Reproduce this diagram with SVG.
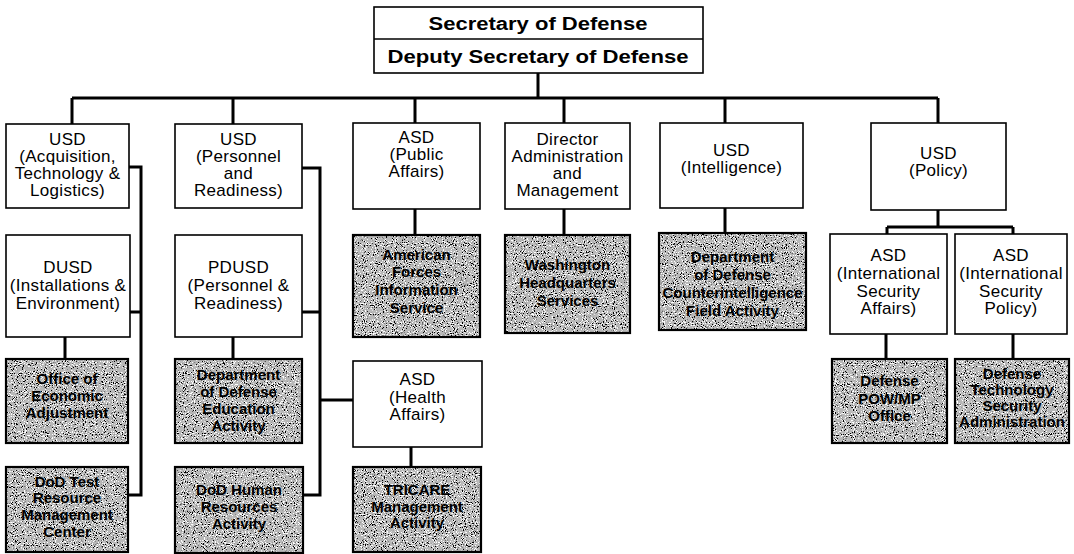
<svg xmlns="http://www.w3.org/2000/svg" width="1074" height="554" viewBox="0 0 1074 554">
<defs>
<filter id="speckle" x="0" y="0" width="100%" height="100%">
<feTurbulence type="fractalNoise" baseFrequency="0.9" numOctaves="2" seed="7" result="n"/>
<feColorMatrix in="n" type="matrix" values="0 0 0 0 0  0 0 0 0 0  0 0 0 0 0  14 0 0 0 -8.3" result="dark"/>
<feColorMatrix in="n" type="matrix" values="0 0 0 0 1  0 0 0 0 1  0 0 0 0 1  -14 0 0 0 5.9" result="light"/>
<feMerge><feMergeNode in="SourceGraphic"/><feMergeNode in="dark"/><feMergeNode in="light"/></feMerge>
<feComposite in2="SourceAlpha" operator="in"/>
</filter>
<style>
.box{fill:#fff;stroke:#000;stroke-width:1.6}
.shf{fill:#b8b8b8;filter:url(#speckle)}
.sho{fill:none;stroke:#000;stroke-width:2.2}
.t{font-family:"Liberation Sans",Arial,sans-serif;font-size:17px;letter-spacing:0.3px;fill:#000;text-anchor:middle}
.b{font-family:"Liberation Sans",Arial,sans-serif;font-size:15px;font-weight:bold;fill:#000;text-anchor:middle}
.h{font-family:"Liberation Sans",Arial,sans-serif;font-size:18px;font-weight:bold;fill:#000;text-anchor:middle}
.c{fill:none;stroke:#000;stroke-width:3}
</style>
</defs>
<rect width="1074" height="554" fill="#fff"/>

<g id="connectors" class="c">
<path d="M538,73 V98 M72,98 H938 M72,98 V124 M233,98 V124 M415,98 V123 M564,98 V123 M725,98 V123 M938,98 V123"/>
<path d="M129,167 H141 V495 H128 M130,312 H141"/>
<path d="M302,168 H320 V495 H303 M302,312 H320 M320,400 H353"/>
<path d="M65,337 V359 M233,337 V359"/>
<path d="M415,209 V235 M564,209 V235 M725,208 V233"/>
<path d="M938,210 V227 M887,227 H1013 M887,227 V234 M1013,227 V234"/>
<path d="M411,447 V467 M886,334 V359 M1013,334 V359"/>
</g>

<g id="secdef">
<rect class="box" x="374" y="7" width="329" height="66"/>
<line x1="374" y1="39" x2="703" y2="39" stroke="#000" stroke-width="1.6"/>
<text class="h" x="538" y="30" textLength="219" lengthAdjust="spacingAndGlyphs">Secretary of Defense</text>
<text class="h" x="538" y="63" textLength="301" lengthAdjust="spacingAndGlyphs">Deputy Secretary of Defense</text>
</g>

<g id="usd-atl">
<rect class="box" x="6" y="124" width="123" height="84"/>
<text class="t"><tspan x="67.5" y="145">USD</tspan><tspan x="67.5" y="162">(Acquisition,</tspan><tspan x="67.5" y="179">Technology &amp;</tspan><tspan x="67.5" y="196">Logistics)</tspan></text>
</g>
<g id="usd-pr">
<rect class="box" x="175" y="124" width="127" height="84"/>
<text class="t"><tspan x="238.5" y="145">USD</tspan><tspan x="238.5" y="162">(Personnel</tspan><tspan x="238.5" y="179">and</tspan><tspan x="238.5" y="196">Readiness)</tspan></text>
</g>
<g id="asd-pa">
<rect class="box" x="353" y="123" width="127" height="86"/>
<text class="t"><tspan x="416.5" y="143">ASD</tspan><tspan x="416.5" y="160">(Public</tspan><tspan x="416.5" y="177">Affairs)</tspan></text>
</g>
<g id="director-am">
<rect class="box" x="505" y="123" width="125" height="86"/>
<text class="t"><tspan x="567.5" y="145">Director</tspan><tspan x="567.5" y="162">Administration</tspan><tspan x="567.5" y="179">and</tspan><tspan x="567.5" y="196">Management</tspan></text>
</g>
<g id="usd-intel">
<rect class="box" x="660" y="123" width="143" height="85"/>
<text class="t"><tspan x="731.5" y="156">USD</tspan><tspan x="731.5" y="173">(Intelligence)</tspan></text>
</g>
<g id="usd-policy">
<rect class="box" x="871" y="123" width="135" height="87"/>
<text class="t"><tspan x="938.5" y="159">USD</tspan><tspan x="938.5" y="176">(Policy)</tspan></text>
</g>
<g id="dusd-ie">
<rect class="box" x="6" y="235" width="124" height="102"/>
<text class="t"><tspan x="68" y="273">DUSD</tspan><tspan x="68" y="291">(Installations &amp;</tspan><tspan x="68" y="309">Environment)</tspan></text>
</g>
<g id="pdusd-pr">
<rect class="box" x="175" y="235" width="127" height="102"/>
<text class="t"><tspan x="238.5" y="273">PDUSD</tspan><tspan x="238.5" y="291">(Personnel &amp;</tspan><tspan x="238.5" y="309">Readiness)</tspan></text>
</g>
<g id="asd-isa">
<rect class="box" x="830" y="234" width="117" height="100"/>
<text class="t"><tspan x="888.5" y="261">ASD</tspan><tspan x="888.5" y="279">(International</tspan><tspan x="888.5" y="297">Security</tspan><tspan x="888.5" y="314">Affairs)</tspan></text>
</g>
<g id="asd-isp">
<rect class="box" x="955" y="234" width="112" height="100"/>
<text class="t"><tspan x="1011" y="261">ASD</tspan><tspan x="1011" y="279">(International</tspan><tspan x="1011" y="297">Security</tspan><tspan x="1011" y="314">Policy)</tspan></text>
</g>
<g id="asd-ha">
<rect class="box" x="353" y="361" width="129" height="86"/>
<text class="t"><tspan x="417.5" y="385">ASD</tspan><tspan x="417.5" y="403">(Health</tspan><tspan x="417.5" y="420">Affairs)</tspan></text>
</g>

<g id="oea">
<rect class="shf" x="6" y="359" width="122" height="84"/><rect class="sho" x="6" y="359" width="122" height="84"/>
<text class="b"><tspan x="67" y="384">Office of</tspan><tspan x="67" y="401">Economic</tspan><tspan x="67" y="418">Adjustment</tspan></text>
</g>
<g id="trmc">
<rect class="shf" x="6" y="467" width="122" height="85"/><rect class="sho" x="6" y="467" width="122" height="85"/>
<text class="b"><tspan x="67" y="487">DoD Test</tspan><tspan x="67" y="503">Resource</tspan><tspan x="67" y="520">Management</tspan><tspan x="67" y="537">Center</tspan></text>
</g>
<g id="dodea">
<rect class="shf" x="175" y="359" width="127" height="84"/><rect class="sho" x="175" y="359" width="127" height="84"/>
<text class="b"><tspan x="238.5" y="380">Department</tspan><tspan x="238.5" y="397">of Defense</tspan><tspan x="238.5" y="414">Education</tspan><tspan x="238.5" y="431">Activity</tspan></text>
</g>
<g id="dhra">
<rect class="shf" x="175" y="467" width="128" height="86"/><rect class="sho" x="175" y="467" width="128" height="86"/>
<text class="b"><tspan x="239" y="495">DoD Human</tspan><tspan x="239" y="512">Resources</tspan><tspan x="239" y="529">Activity</tspan></text>
</g>
<g id="afis">
<rect class="shf" x="353" y="235" width="127" height="102"/><rect class="sho" x="353" y="235" width="127" height="102"/>
<text class="b"><tspan x="416.5" y="260">American</tspan><tspan x="416.5" y="277">Forces</tspan><tspan x="416.5" y="295">Information</tspan><tspan x="416.5" y="313">Service</tspan></text>
</g>
<g id="whs">
<rect class="shf" x="505" y="235" width="125" height="98"/><rect class="sho" x="505" y="235" width="125" height="98"/>
<text class="b"><tspan x="567.5" y="270">Washington</tspan><tspan x="567.5" y="288">Headquarters</tspan><tspan x="567.5" y="306">Services</tspan></text>
</g>
<g id="cifa">
<rect class="shf" x="659" y="233" width="147" height="97"/><rect class="sho" x="659" y="233" width="147" height="97"/>
<text class="b"><tspan x="732.5" y="262">Department</tspan><tspan x="732.5" y="280">of Defense</tspan><tspan x="732.5" y="298">Counterintelligence</tspan><tspan x="732.5" y="316">Field Activity</tspan></text>
</g>
<g id="tricare">
<rect class="shf" x="353" y="467" width="128" height="85"/><rect class="sho" x="353" y="467" width="128" height="85"/>
<text class="b"><tspan x="417" y="495">TRICARE</tspan><tspan x="417" y="512">Management</tspan><tspan x="417" y="528">Activity</tspan></text>
</g>
<g id="dpmo">
<rect class="shf" x="832" y="359" width="115" height="84"/><rect class="sho" x="832" y="359" width="115" height="84"/>
<text class="b"><tspan x="889.5" y="386">Defense</tspan><tspan x="889.5" y="404">POW/MP</tspan><tspan x="889.5" y="421">Office</tspan></text>
</g>
<g id="dtsa">
<rect class="shf" x="955" y="359" width="114" height="84"/><rect class="sho" x="955" y="359" width="114" height="84"/>
<text class="b"><tspan x="1012" y="379">Defense</tspan><tspan x="1012" y="395">Technology</tspan><tspan x="1012" y="411">Security</tspan><tspan x="1012" y="427">Administration</tspan></text>
</g>
</svg>
